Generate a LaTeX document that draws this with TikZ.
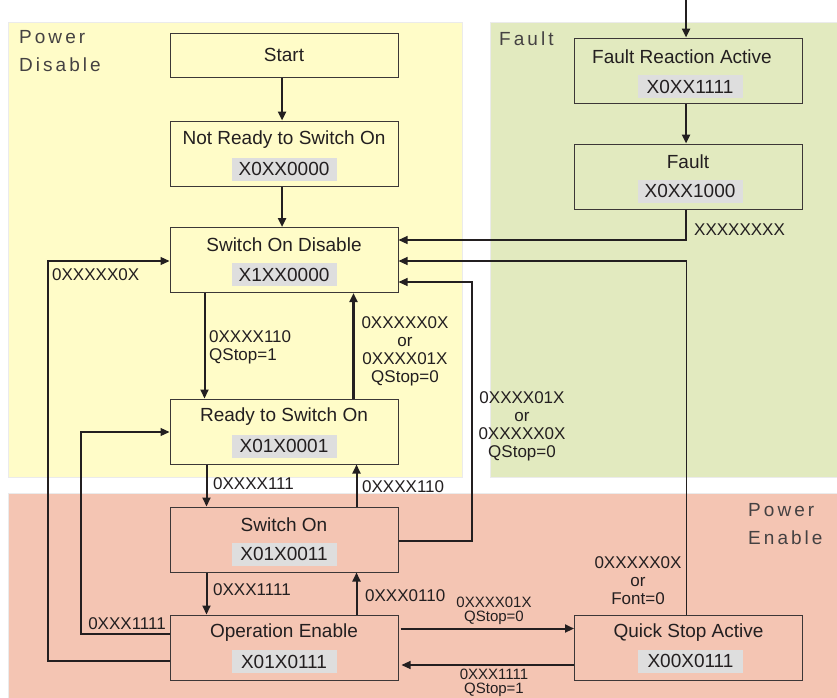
\documentclass[tikz,border=0pt]{standalone}
\usepackage{fontspec}
\setmainfont{Liberation Sans}
\newfontfamily\regfont[LetterSpace=16]{Liberation Sans}
\usetikzlibrary{arrows.meta,calc}
\definecolor{yel}{RGB}{255,252,200}
\definecolor{grn}{RGB}{226,234,191}
\definecolor{pnk}{RGB}{244,197,179}
\definecolor{codegray}{RGB}{222,222,222}
\definecolor{txt}{RGB}{35,31,32}
\definecolor{boxline}{RGB}{60,55,55}
\tikzset{
  region/.style={fill=#1, draw=black!8, line width=0.8pt},
  statebox/.style={draw=boxline, line width=1pt, minimum width=228pt, minimum height=65pt, inner sep=0pt},
  startbox/.style={statebox, minimum height=44pt},
  title/.style={font=\fontsize{19}{22}\selectfont, text=txt, inner sep=0pt},
  code/.style={fill=codegray, minimum width=105pt, minimum height=23pt, inner sep=0pt, font=\fontsize{19}{22}\selectfont, text=txt},
  lab/.style={font=\fontsize{17}{18}\selectfont, text=txt, inner sep=0pt, align=center},
  smalllab/.style={font=\fontsize{15}{14}\selectfont, text=txt, inner sep=0pt, align=center},
  reglab/.style={font=\regfont\fontsize{19}{28}\selectfont, text=txt!85, inner sep=0pt, align=left},
  thickarr/.style={draw=txt, line width=2.6pt, -{Triangle[length=9pt,width=8pt]}},
  medarr/.style={draw=txt, line width=2pt, -{Triangle[length=9pt,width=8pt]}},
  thinarr/.style={draw=txt, line width=1.1pt, -{Triangle[length=9pt,width=8pt]}},
}
\begin{document}
\begin{tikzpicture}[x=1pt,y=-1pt]
\useasboundingbox (0,0) rectangle (837,697);
% regions
\fill[white] (0,0) rectangle (837,697);
\path[region=yel] (8,22) rectangle (462,477);
\path[region=grn] (490,22) rectangle (840,477);
\path[region=pnk] (8,493) rectangle (840,700);
\node[reglab, anchor=west] (rpd) at (19,51) {Power\\Disable};
\node[reglab, anchor=west] (rf) at (499,39) {Fault};
\node[reglab, anchor=west] (rpe) at (748,524) {Power\\Enable};

% state boxes
\node[startbox] (start) at (284,55) {};
\node[title] (startt) at (start.center) {Start};

\node[statebox] (nr) at (284,153.5) {};
\node[title] (nrt) at ($(nr.center)+(0,-14)$) {Not Ready to Switch On};
\node[code] (nrc) at ($(nr.center)+(0,15.5)$) {X0XX0000};

\node[statebox] (sod) at (284,260) {};
\node[title] (sodt) at ($(sod.center)+(0,-15)$) {Switch On Disable};
\node[code] (sodc) at ($(sod.center)+(0,14.5)$) {X1XX0000};

\node[statebox] (rtso) at (284,431.5) {};
\node[title] (rtsot) at ($(rtso.center)+(0,-15)$) {Ready to Switch On};
\node[code] (rtsoc) at ($(rtso.center)+(0,14.5)$) {X01X0001};

\node[statebox] (son) at (284,539.5) {};
\node[title] (sont) at ($(son.center)+(0,-15)$) {Switch On};
\node[code] (sonc) at ($(son.center)+(0,14.5)$) {X01X0011};

\node[statebox] (oe) at (284,647.5) {};
\node[title] (oet) at ($(oe.center)+(0,-15)$) {Operation Enable};
\node[code] (oec) at ($(oe.center)+(0,14)$) {X01X0111};

\node[statebox] (fra) at (688,70.5) {};
\node[title] (frat) at ($(fra.center)+(-6,-14)$) {Fault Reaction Active};
\node[code] (frac) at ($(fra.center)+(2,16)$) {X0XX1111};

\node[statebox] (flt) at (688,176.5) {};
\node[title] (fltt) at ($(flt.center)+(0,-14.5)$) {Fault};
\node[code] (fltc) at ($(flt.center)+(2,14.5)$) {X0XX1000};

\node[statebox] (qsa) at (688.5,647.5) {};
\node[title] (qsat) at ($(qsa.center)+(0,-15)$) {Quick Stop Active};
\node[code] (qsac) at ($(qsa.center)+(2,13.5)$) {X00X0111};

% helper coordinates
\coordinate (topin) at (686,0);
\coordinate (c1) at (48,261);
\coordinate (c2) at (81,432);
\coordinate (c3) at (472,282);

% straight vertical arrows
\draw[thickarr] ($(start.south)+(-2,0)$) -- ($(nr.north)+(-2,0)$);
\draw[thickarr] ($(nr.south)+(-2,0)$) -- ($(sod.north)+(-2,0)$);
\draw[thickarr] (topin) -- ($(fra.north)+(-2,0)$);
\draw[thickarr] ($(fra.south)+(-2,0)$) -- ($(flt.north)+(-2,0)$);

\draw[medarr] ($(sod.south west)+(35,0)$) -- ($(rtso.north west)+(35,0)$);
\draw[thickarr] ($(rtso.north west)+(184,0)$) -- ($(sod.south west)+(184,0)$);
\draw[medarr] ($(rtso.south west)+(37,0)$) -- ($(son.north west)+(37,0)$);
\draw[medarr] ($(son.north west)+(187,0)$) -- ($(rtso.south west)+(187,0)$);
\draw[medarr] ($(son.south west)+(37,0)$) -- ($(oe.north west)+(37,0)$);
\draw[medarr] ($(oe.north west)+(187,0)$) -- ($(son.south west)+(187,0)$);

% return paths to Switch On Disable
\draw[thinarr] ($(flt.south)+(-2,0)$) |- ($(sod.east)+(0,-20)$);
\draw[thinarr] ($(qsa.north)+(-2,0)$) |- ($(sod.east)+(0,1)$);
\draw[thinarr] ($(son.east)+(0,1.5)$) -| (c3) -- ($(sod.east)+(0,22)$);
\draw[thinarr] ($(oe.west)+(0,13.5)$) -| (c1) -- ($(sod.west)+(0,1)$);
\draw[thinarr] ($(oe.west)+(0,-13.5)$) -| (c2) -- ($(rtso.west)+(0,0.5)$);

% horizontal between Operation Enable and Quick Stop Active
\draw[medarr] ($(oe.east)+(2,-19)$) -- ($(qsa.west)+(0,-19)$);
\draw[thinarr] ($(qsa.west)+(0,17.5)$) -- ($(oe.east)+(3,17.5)$);

% labels
\node[lab, anchor=west] (lx8) at ($(flt.south)+(6,20)$) {XXXXXXXX};
\node[lab, anchor=west, align=left] (l1) at (209,347) {0XXXX110\\QStop=1};
\node[lab] (l2) at (405,351) {0XXXXX0X\\or\\0XXXX01X\\QStop=0};
\node[lab] (l3) at (522,426) {0XXXX01X\\or\\0XXXXX0X\\QStop=0};
\node[lab] (l4) at (638,581) {0XXXXX0X\\or\\Font=0};
\node[lab, anchor=west] (l5) at (52,275) {0XXXXX0X};
\node[lab, anchor=east] (l6) at (166,624) {0XXX1111};
\node[lab, anchor=west] (l7) at (213,484) {0XXXX111};
\node[lab, anchor=west] (l8) at (362,487) {0XXXX110};
\node[lab, anchor=west] (l9) at (213,590) {0XXX1111};
\node[lab, anchor=west] (l10) at (365,596) {0XXX0110};
\node[smalllab] (l11) at (494,611) {0XXXX01X\\QStop=0};
\node[smalllab] (l12) at (494,683) {0XXX1111\\QStop=1};
\end{tikzpicture}
\end{document}
